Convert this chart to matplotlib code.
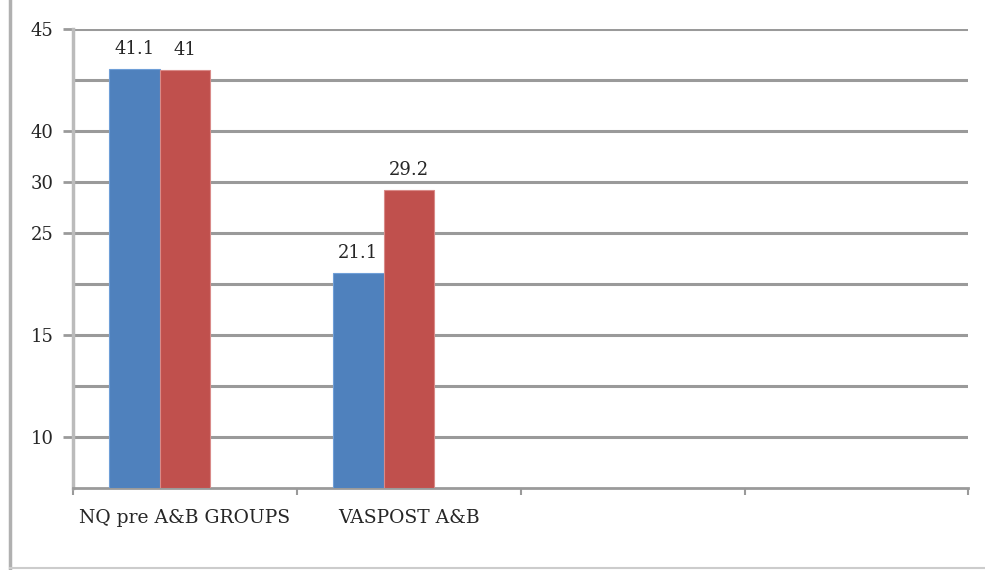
import numpy as np
import matplotlib.pyplot as plt
from matplotlib.lines import Line2D

# data
categories = ["NQ pre A&B GROUPS", "VASPOST A&B", "", ""]
series_a = [41.1, 21.1]          # blue
series_b = [41.0, 29.2]          # red
label_a = ["41.1", "21.1"]
label_b = ["41", "29.2"]
ytick_vals = [45, 35, 30, 25, 15, 5]
ytick_text = ["45", "40", "30", "25", "15", "10"]

BLUE = "#4F81BD"
RED = "#C0504D"
GRID = "#9a9a9a"
TEXT = "#262626"

plt.rcParams["font.family"] = ["DejaVu Serif"]

fig = plt.figure(figsize=(9.85, 5.7), dpi=100)
ax = fig.add_axes([0.0741, 0.144, 0.909, 0.805])

n_series = 3                      # third series is empty in the source chart
width = 0.225
x = np.arange(len(series_a))
off_a = (0 - (n_series - 1) / 2) * width
off_b = (1 - (n_series - 1) / 2) * width

bars_a = ax.bar(x + off_a, series_a, width, color=BLUE, edgecolor="#6f9fd8", linewidth=0.8, zorder=3)
bars_b = ax.bar(x + off_b, series_b, width, color=RED, edgecolor="#d98a88", linewidth=0.8, zorder=3)

for rect, txt in zip(bars_a, label_a):
    ax.annotate(txt, (rect.get_x() + rect.get_width() / 2, rect.get_height()),
                xytext=(0, 8), textcoords="offset points", ha="center", va="bottom",
                fontsize=13, color=TEXT)
for rect, txt in zip(bars_b, label_b):
    ax.annotate(txt, (rect.get_x() + rect.get_width() / 2, rect.get_height()),
                xytext=(0, 8), textcoords="offset points", ha="center", va="bottom",
                fontsize=13, color=TEXT)

ax.set_xlim(-0.5, len(categories) - 0.5)
ax.set_ylim(0, 45)

# gridlines every 5 units, only some carry labels
for g in range(5, 50, 5):
    ax.axhline(g, color=GRID, linewidth=2.2, zorder=1)
ax.set_yticks(ytick_vals)
ax.set_yticklabels(ytick_text, fontsize=13, color=TEXT)
ax.tick_params(axis="y", length=7, width=2, color=GRID, pad=7)

# category ticks at boundaries, labels centered
ax.set_xticks(np.arange(-0.5, len(categories)), minor=False)
ax.set_xticklabels([""] * (len(categories) + 1))
ax.set_xticks(np.arange(len(categories)), minor=True)
ax.set_xticklabels(categories, minor=True, fontsize=13.5, color=TEXT)
ax.tick_params(axis="x", which="minor", length=0, pad=15)
ax.tick_params(axis="x", which="major", length=5, width=1.5, color=GRID, direction="out")

for side in ("top", "right"):
    ax.spines[side].set_visible(False)
ax.spines["left"].set_color("#bbbbbb")
ax.spines["left"].set_linewidth(2.5)
ax.spines["bottom"].set_color(GRID)
ax.spines["bottom"].set_linewidth(2.0)

# outer chart border (left and bottom visible)
fig.add_artist(Line2D([0.0105, 0.0105], [0.004, 1.0], color="#b0b0b0", linewidth=2.5))
fig.add_artist(Line2D([0.0105, 1.0], [0.004, 0.004], color="#cccccc", linewidth=1.5))

fig.savefig("out.png", dpi=100)
